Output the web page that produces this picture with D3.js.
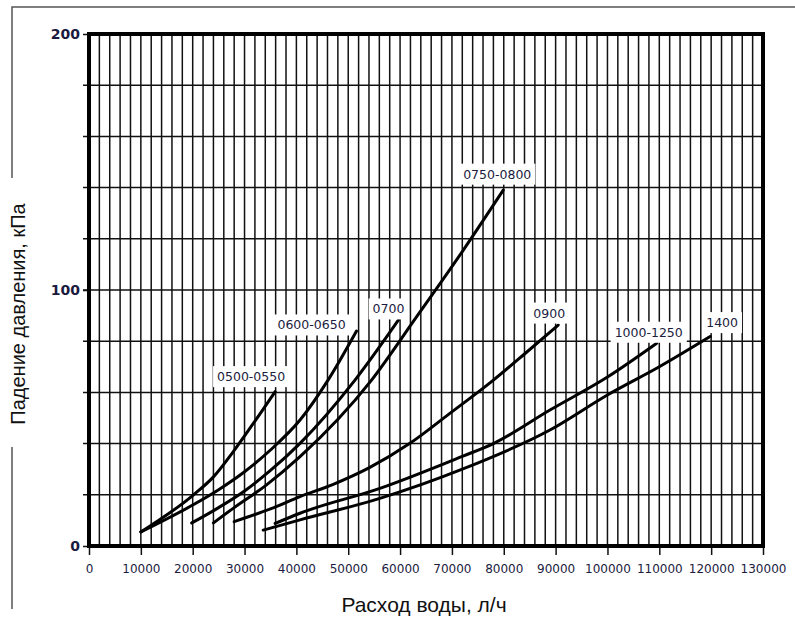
<!DOCTYPE html>
<html>
<head>
<meta charset="utf-8">
<script src="https://cdn.jsdelivr.net/npm/d3@7"></script>
<style>
  body { margin: 0; background: #fff; }
  svg { display: block; }
</style>
</head>
<body>
<div id="chart"></div>
<script>
// pressure drop curves, [water flow l/h, pressure drop kPa]
const seriesNames = ["0500-0550", "0600-0650", "0700", "0750-0800", "0900", "1000-1250", "1400"];
const s0500 = [[10000, 5.5], [20100, 19.9], [24000, 27], [27800, 36.8], [31700, 47.9], [35900, 60.3]];
const s0600 = [[10000, 5.5], [20000, 16], [25000, 22], [30000, 29], [35000, 37.5], [40700, 49.2], [46100, 64.8], [51600, 84]];
const s0700 = [[19800, 9], [25000, 15], [30000, 21.5], [35000, 29.5], [40700, 40.1], [51300, 64.8], [59700, 88.3]];
const s0750 = [[24000, 9], [28000, 15], [34000, 23.5], [40700, 34.9], [54500, 64.8], [63000, 89], [72200, 115.6], [79900, 139]];
const s0900 = [[28000, 9.5], [35000, 14.5], [40700, 19.3], [47000, 24], [54000, 30.5], [61900, 40.1], [69600, 51.8], [78000, 64.8], [84000, 75], [90500, 86.3]];
const s1000 = [[35900, 8.8], [40700, 12.8], [56100, 22.5], [72000, 35], [78000, 40], [88900, 53.1], [100000, 66], [109500, 79.2]];
const s1400 = [[33600, 6.2], [40700, 10.2], [56100, 18.6], [72000, 30], [88900, 45.3], [100000, 59], [110000, 70], [119800, 81.8]];
const xTicks = [0, 10000, 20000, 30000, 40000, 50000, 60000, 70000, 80000, 90000, 100000, 110000, 120000, 130000];
const yTicks = [0, 100, 200];

const allSeries = [s0500, s0600, s0700, s0750, s0900, s1000, s1400];
// where each label sits relative to the end of its curve
const labelOffsets = [[-24, -15], [-45, -6], [-10, -11], [-6, -16], [-9, -12], [-8, -11], [12, -14]];

const width = 795, height = 623;
const svg = d3.select("#chart").append("svg")
    .attr("width", width)
    .attr("height", height);

const x = d3.scaleLinear().domain([0, 130000]).range([89, 763]);
const y = d3.scaleLinear().domain([0, 200]).range([546, 34]);

// outer frame (top + broken left edge)
svg.append("path")
    .attr("d", "M12,178 L12,7 L795,7 M12,447 L12,609")
    .attr("fill", "none")
    .attr("stroke", "#555")
    .attr("stroke-width", 1.5);

// grid
svg.append("g").selectAll("line")
    .data(d3.range(2000, 130000, 2000))
    .join("line")
    .attr("x1", d => x(d)).attr("x2", d => x(d))
    .attr("y1", y(200)).attr("y2", y(0))
    .attr("stroke", "#111")
    .attr("stroke-width", 1.5);

svg.append("g").selectAll("line")
    .data(d3.range(20, 200, 20))
    .join("line")
    .attr("x1", x(0) - 6).attr("x2", x(130000))
    .attr("y1", d => y(d)).attr("y2", d => y(d))
    .attr("stroke", "#111")
    .attr("stroke-width", 1.5);

// x axis
const xAxis = svg.append("g")
    .attr("transform", `translate(0, ${y(0)})`)
    .call(d3.axisBottom(x).tickValues(xTicks).tickSize(9).tickFormat(d3.format("d")));
xAxis.select(".domain").remove();
xAxis.selectAll("line").attr("stroke", "#111").attr("stroke-width", 1.5);
xAxis.selectAll("text")
    .attr("y", 18)
    .style("font-family", "DejaVu Sans, sans-serif")
    .style("font-size", "12px")
    .attr("fill", "#1c1c40");

// y axis
const yAxis = svg.append("g")
    .attr("transform", `translate(${x(0)}, 0)`)
    .call(d3.axisLeft(y).tickValues(yTicks).tickSize(6));
yAxis.select(".domain").remove();
yAxis.selectAll("line").attr("stroke", "#111").attr("stroke-width", 1.5);
yAxis.selectAll("text")
    .attr("x", -9)
    .style("font-family", "DejaVu Sans, sans-serif")
    .style("font-size", "14px")
    .style("font-weight", "bold")
    .attr("fill", "#1a1a40");

// thick plot frame
svg.append("rect")
    .attr("x", x(0)).attr("y", y(200))
    .attr("width", x(130000) - x(0))
    .attr("height", y(0) - y(200))
    .attr("fill", "none")
    .attr("stroke", "#000")
    .attr("stroke-width", 4);

// curves
const line = d3.line()
    .x(d => x(d[0]))
    .y(d => y(d[1]))
    .curve(d3.curveMonotoneX);

svg.append("g").selectAll("path")
    .data(allSeries)
    .join("path")
    .attr("d", line)
    .attr("fill", "none")
    .attr("stroke", "#000")
    .attr("stroke-width", 3)
    .attr("stroke-linecap", "round")
    .attr("stroke-linejoin", "round");

// curve labels on white boxes
const labels = svg.append("g");
allSeries.forEach((s, i) => {
    const end = s[s.length - 1];
    const g = labels.append("g");
    const t = g.append("text")
        .attr("x", x(end[0]) + labelOffsets[i][0])
        .attr("y", y(end[1]) + labelOffsets[i][1])
        .attr("text-anchor", "middle")
        .attr("dominant-baseline", "central")
        .style("font-family", "DejaVu Sans, sans-serif")
        .style("font-size", "12.5px")
        .attr("fill", "#1c1c40")
        .text(seriesNames[i]);
    const b = t.node().getBBox();
    g.insert("rect", "text")
        .attr("x", b.x - 4).attr("y", b.y - 3)
        .attr("width", b.width + 8).attr("height", b.height + 6)
        .attr("fill", "#fff");
});

// axis titles
svg.append("text")
    .attr("x", 424).attr("y", 612)
    .attr("text-anchor", "middle")
    .style("font-family", "Liberation Sans, Arial, sans-serif")
    .style("font-size", "21px")
    .attr("fill", "#111")
    .text("Расход воды, л/ч");

svg.append("text")
    .attr("transform", "translate(25, 314) rotate(-90)")
    .attr("text-anchor", "middle")
    .style("font-family", "Liberation Sans, Arial, sans-serif")
    .style("font-size", "20px")
    .attr("fill", "#111")
    .text("Падение давления, кПа");
</script>
</body>
</html>
